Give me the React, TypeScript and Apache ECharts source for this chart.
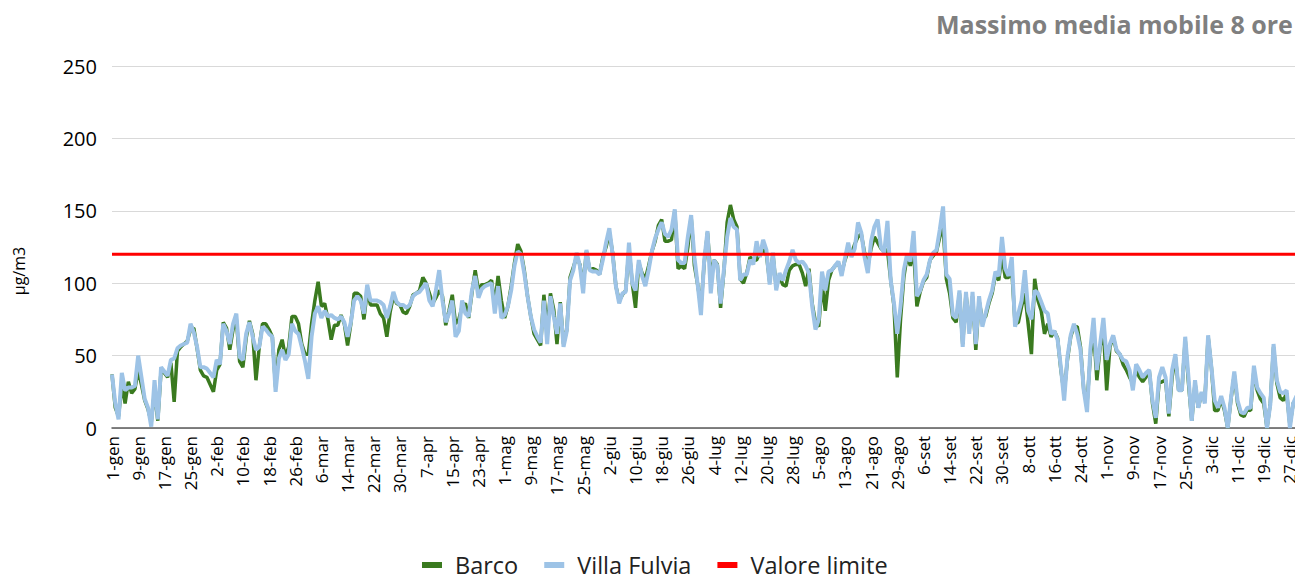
import React, { useEffect, useRef } from "react";
import * as echarts from "echarts";

const MONTHS = ["gen", "feb", "mar", "apr", "mag", "giu", "lug", "ago", "set", "ott", "nov", "dic"];
const MONTH_DAYS = [31, 28, 31, 30, 31, 30, 31, 31, 30, 31, 30, 31];
const categories: string[] = [];
MONTHS.forEach((m, i) => {
  for (let d = 1; d <= MONTH_DAYS[i]; d++) categories.push(`${d}-${m}`);
});

const LIMIT = 120;

const villaFulvia = [
  37, 17, 6, 38, 26, 28, 28, 29, 50, 35,
  20, 14, 1, 33, 6, 42, 39, 36, 47, 48,
  55, 57, 58, 59, 72, 66, 56, 42, 42, 41,
  38, 35, 47, 44, 72, 67, 58, 72, 79, 49,
  47, 65, 73, 63, 54, 56, 70, 68, 65, 63,
  25, 48, 54, 47, 51, 72, 67, 65, 56, 46,
  34, 63, 79, 84, 76, 81, 77, 78, 76, 75,
  77, 73, 63, 73, 88, 91, 88, 79, 99, 88,
  88, 88, 87, 85, 76, 84, 94, 87, 85, 85,
  83, 85, 91, 93, 94, 97, 100, 88, 84, 95,
  109, 88, 73, 79, 88, 63, 67, 88, 79, 77,
  95, 105, 90, 96, 98, 99, 100, 79, 98, 76,
  78, 84, 95, 112, 122, 120, 107, 91, 77, 68,
  63, 59, 88, 58, 91, 77, 65, 86, 56, 67,
  102, 109, 121, 112, 93, 123, 109, 108, 108, 106,
  116, 128, 138, 120, 98, 86, 93, 94, 128, 100,
  95, 116, 105, 98, 109, 122, 131, 137, 142, 134,
  132, 137, 151, 116, 114, 114, 132, 147, 118, 99,
  78, 116, 136, 93, 116, 112, 86, 109, 132, 145,
  139, 137, 102, 106, 106, 116, 113, 129, 118, 130,
  123, 99, 121, 95, 107, 102, 109, 115, 123, 116,
  114, 115, 112, 107, 84, 68, 75, 108, 95, 108,
  109, 112, 115, 105, 117, 128, 118, 124, 142, 135,
  118, 107, 129, 139, 144, 125, 121, 143, 102, 86,
  65, 84, 109, 120, 115, 136, 91, 95, 102, 106,
  116, 121, 123, 137, 153, 106, 103, 78, 76, 95,
  56, 94, 65, 94, 58, 91, 70, 79, 88, 95,
  108, 105, 132, 110, 105, 118, 70, 79, 88, 109,
  81, 75, 95, 93, 87, 81, 79, 65, 67, 61,
  42, 19, 49, 64, 72, 65, 54, 26, 11, 54,
  76, 40, 58, 76, 47, 58, 64, 54, 51, 47,
  46, 40, 26, 44, 40, 35, 38, 40, 19, 7,
  35, 42, 35, 10, 40, 51, 26, 26, 63, 35,
  5, 33, 14, 25, 17, 64, 42, 19, 14, 22,
  14, 0, 21, 39, 19, 11, 10, 14, 14, 43,
  28, 24, 21, 0, 16, 58, 33, 25, 24, 26,
  0, 17, 22, 26, 20,
];

const barco = [
  37, 14, 8, 30, 17, 32, 24, 27, 40, 30,
  19, 13, 4, 26, 5, 40, 38, 35, 45, 18,
  53, 56, 58, 60, 68, 69, 55, 40, 36, 35,
  30, 25, 40, 44, 73, 69, 54, 68, 75, 46,
  42, 62, 74, 65, 33, 56, 72, 72, 68, 63,
  28, 54, 61, 49, 56, 77, 77, 72, 58, 51,
  51, 72, 88, 101, 84, 86, 75, 61, 71, 71,
  78, 72, 57, 72, 93, 93, 91, 75, 95, 85,
  85, 85, 79, 76, 63, 80, 91, 86, 85, 80,
  79, 84, 92, 93, 95, 104, 100, 93, 86, 90,
  95, 91, 71, 81, 92, 72, 75, 84, 86, 76,
  93, 109, 95, 99, 99, 100, 102, 85, 105, 88,
  76, 84, 98, 114, 127, 122, 109, 91, 77, 65,
  61, 57, 92, 68, 93, 82, 58, 87, 58, 68,
  104, 111, 118, 113, 98, 122, 109, 110, 109, 106,
  118, 125, 135, 121, 98, 88, 92, 95, 124, 100,
  83, 114, 107, 103, 112, 122, 129, 140, 144, 129,
  129, 130, 150, 110, 112, 110, 125, 146, 112, 99,
  84, 114, 135, 105, 116, 113, 83, 108, 142, 154,
  144, 139, 103, 100, 107, 118, 116, 116, 121, 123,
  120, 101, 120, 97, 105, 99, 98, 109, 112, 113,
  113, 107, 98, 110, 86, 73, 70, 100, 81, 102,
  109, 112, 114, 107, 116, 122, 120, 127, 132, 134,
  121, 112, 124, 132, 128, 124, 122, 123, 102, 84,
  35, 75, 104, 119, 112, 123, 84, 94, 101, 104,
  116, 119, 122, 132, 139, 103, 93, 76, 73, 93,
  58, 93, 68, 91, 54, 88, 75, 77, 86, 93,
  106, 102, 119, 104, 104, 109, 72, 73, 84, 93,
  72, 51, 103, 88, 81, 65, 72, 63, 67, 62,
  40, 24, 47, 63, 70, 70, 56, 26, 17, 49,
  68, 33, 56, 68, 26, 56, 63, 53, 51, 44,
  40, 35, 31, 40, 35, 32, 35, 40, 17, 3,
  31, 32, 33, 8, 35, 49, 26, 26, 61, 31,
  5, 31, 14, 24, 19, 63, 42, 12, 12, 20,
  12, 0, 20, 37, 17, 9, 8, 13, 12, 40,
  26, 20, 17, 0, 17, 56, 31, 21, 19, 24,
  2, 17, 20, 24, 18,
];

const limitValues = categories.map(() => LIMIT);

const FONT = "'Open Sans', 'Noto Sans', sans-serif";

export default function App() {
  const ref = useRef<HTMLDivElement>(null);

  useEffect(() => {
    if (!ref.current) return;
    const chart = echarts.init(ref.current, undefined, { renderer: "svg" });
    chart.setOption({
      animation: false,
      backgroundColor: "#ffffff",
      textStyle: { fontFamily: FONT },
      title: {
        text: "Massimo media mobile 8 ore",
        left: 931,
        top: 6,
        textStyle: { fontFamily: FONT, fontSize: 25, fontWeight: "bold", color: "#7f7f7f" },
      },
      legend: {
        data: ["Barco", "Villa Fulvia", "Valore limite"],
        left: 417,
        top: 548,
        icon: "rect",
        itemWidth: 20,
        itemHeight: 6,
        itemGap: 26,
        textStyle: { fontFamily: FONT, fontSize: 23.5, color: "#222", padding: [0, 0, 0, 8] },
      },
      graphic: [
        {
          type: "text",
          x: 19,
          y: 271,
          rotation: Math.PI / 2,
          style: {
            text: "µg/m3",
            fontFamily: FONT,
            fontSize: 16,
            fill: "#000",
            align: "center",
            verticalAlign: "middle",
          },
        },
      ],
      grid: { left: 112, right: 17, top: 66, bottom: 150, containLabel: false },
      xAxis: {
        type: "category",
        data: categories,
        boundaryGap: false,
        axisLine: { lineStyle: { color: "#595959", width: 1.5 } },
        axisTick: { show: false },
        axisLabel: {
          interval: 7,
          rotate: 90,
          fontSize: 17,
          margin: 8,
          color: "#000",
          fontFamily: FONT,
        },
        splitLine: { show: false },
      },
      yAxis: {
        type: "value",
        min: 0,
        max: 250,
        interval: 50,
        axisLine: { show: false },
        axisTick: { show: false },
        axisLabel: { fontSize: 20, color: "#000", margin: 15, fontFamily: FONT },
        splitLine: { lineStyle: { color: "#d9d9d9", width: 1 } },
      },
      series: [
        {
          name: "Barco",
          type: "line",
          data: barco,
          showSymbol: false,
          lineStyle: { color: "#3a7a1f", width: 3.5 },
          itemStyle: { color: "#3a7a1f" },
        },
        {
          name: "Villa Fulvia",
          type: "line",
          data: villaFulvia,
          showSymbol: false,
          lineStyle: { color: "#9dc3e6", width: 4 },
          itemStyle: { color: "#9dc3e6" },
        },
        {
          name: "Valore limite",
          type: "line",
          data: limitValues,
          showSymbol: false,
          lineStyle: { color: "#ff0000", width: 3 },
          itemStyle: { color: "#ff0000" },
        },
      ],
    });
    return () => chart.dispose();
  }, []);

  return (
    <div
      style={{
        position: "absolute",
        left: 0,
        top: 0,
        width: 1295,
        height: 578,
        overflow: "hidden",
        background: "#fff",
      }}
    >
      <div ref={ref} style={{ width: 1320, height: 578 }} />
    </div>
  );
}
